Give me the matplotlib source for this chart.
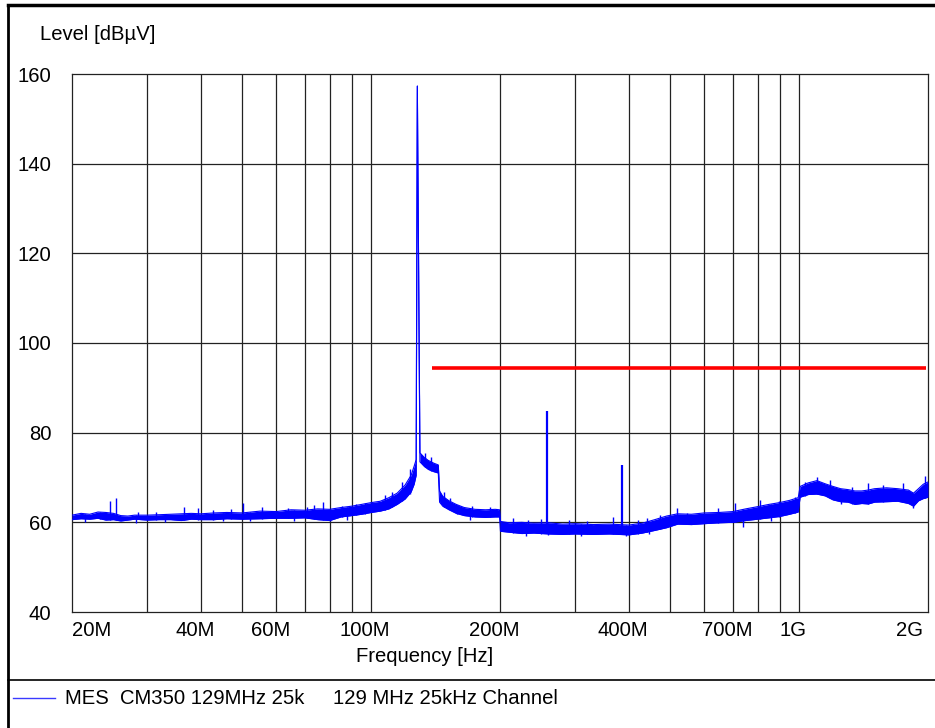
import numpy as np
import matplotlib
matplotlib.use('Agg')
import matplotlib.pyplot as plt
import matplotlib.transforms as mtrans
from matplotlib.lines import Line2D

plt.rcParams['font.family'] = ['Liberation Sans', 'DejaVu Sans']
FS = 14.6

# measured trace, envelope of the noise band (MHz, dBuV)
band_f = [20, 21, 22, 23, 24, 25, 26, 27, 28, 30, 32, 34, 36, 38, 40, 43, 46, 50,
          55, 60, 65, 70, 75, 80, 85, 90, 95, 100, 105, 110, 115, 120, 124, 126,
          127.4, 128.2, 130.0, 133, 136, 140, 143.5, 144.5, 147, 152, 158, 165,
          175, 185, 195, 199.5, 200.5, 210, 225, 240, 260, 280, 300, 330, 360,
          400, 430, 460, 490, 520, 560, 600, 650, 700, 750, 800, 850, 900, 950,
          995, 1005, 1050, 1100, 1150, 1200, 1250, 1300, 1350, 1400, 1450, 1500,
          1600, 1700, 1800, 1850, 1900, 1950, 2000]
band_lo = [60.6, 60.8, 60.7, 60.9, 60.5, 60.6, 60.3, 60.5, 60.7, 60.5, 60.6, 60.6,
           60.4, 60.7, 60.6, 60.6, 60.8, 60.7, 60.8, 60.9, 60.9, 61.0, 60.6, 60.4,
           61.2, 61.5, 61.8, 62.2, 62.5, 63.0, 64.0, 65.2, 66.8, 68.5, 70.5, 157.3,
           73.5, 72.5, 71.8, 71.3, 71.0, 64.5, 63.6, 62.8, 62.0, 61.5, 61.2, 61.1,
           61.2, 61.2, 58.0, 57.8, 57.5, 57.6, 57.4, 57.3, 57.4, 57.3, 57.4, 57.2,
           57.6, 58.2, 58.8, 59.6, 59.5, 59.7, 59.9, 60.0, 60.4, 60.7, 61.0, 61.3,
           61.8, 62.3, 65.6, 66.2, 66.3, 65.9, 65.0, 64.6, 64.5, 64.0, 64.2, 64.1,
           64.5, 64.6, 64.7, 64.2, 63.6, 64.8, 65.3, 65.6]
band_hi = [61.6, 62.0, 61.8, 62.3, 62.2, 62.0, 61.5, 61.4, 61.6, 61.6, 61.7, 61.8,
           61.9, 62.0, 61.9, 62.1, 62.2, 62.1, 62.5, 62.4, 62.8, 62.7, 63.0, 62.9,
           63.3, 63.6, 64.0, 64.4, 64.7, 65.5, 66.5, 68.3, 70.5, 72.5, 74.0, 157.3,
           75.5, 74.5, 73.8, 73.2, 72.8, 67.0, 65.8, 64.8, 64.0, 63.3, 62.9, 62.8,
           62.9, 62.8, 60.2, 59.9, 60.0, 59.8, 59.9, 59.6, 59.7, 59.5, 59.6, 59.4,
           59.8, 60.6, 61.4, 61.9, 61.8, 62.1, 62.2, 62.4, 63.0, 63.5, 64.0, 64.4,
           64.9, 65.5, 68.0, 68.8, 69.3, 68.6, 68.0, 67.5, 67.3, 67.0, 67.0, 67.2,
           67.5, 67.7, 67.5, 67.2, 66.5, 67.5, 68.5, 69.0]

# single bumps sticking out above the band
bump_f = [23.2, 24.5, 25.3, 28.5, 31.5, 36.6, 39.4, 42.7, 47.0, 50.2, 55.6, 64.0,
          70.9, 73.5, 77.3, 85.5, 92.0, 96.8, 106.7, 107.8, 112, 118, 123, 133.7,
          138, 148, 153, 159, 172, 190, 215, 232, 250, 290, 320, 368, 420, 442,
          473, 518, 547, 646, 708, 811, 895, 978, 1030, 1100, 1180, 1330, 1450,
          1570, 1750, 1970]
bump_top = [62.3, 64.7, 65.4, 62.3, 62.4, 63.4, 63.2, 62.7, 62.9, 64.4, 63.4, 63.3,
            63.4, 63.8, 64.5, 63.6, 64.2, 64.3, 65.0, 66.0, 66.8, 69.0, 72.0, 75.4,
            74.5, 66.8, 65.4, 63.8, 63.6, 63.5, 61.0, 60.6, 60.8, 60.5, 60.4, 61.3,
            60.5, 61.0, 61.6, 63.2, 62.0, 63.2, 64.3, 65.0, 64.8, 65.6, 69.0, 70.1,
            69.4, 67.9, 68.8, 68.3, 68.8, 70.3]

# single dips below the band
dip_f = [21.5, 28.2, 33, 45, 52, 66, 80, 88, 170, 230, 259, 310, 393, 445, 740,
         860, 1250, 1840]
dip_bot = [60.0, 59.8, 60.1, 60.2, 60.3, 60.4, 60.2, 60.6, 60.6, 57.0, 57.2, 56.9,
           56.9, 57.3, 59.0, 60.4, 64.0, 63.2]

# discrete carriers
spur_f = [257, 385]
spur_top = [84.8, 72.8]

# limit line
limit_f = [139, 1980]
limit_lvl = [94.5, 94.5]

xticks = [20, 40, 60, 100, 200, 400, 700, 1000, 2000]
xticklabels = ['20M', '40M', '60M', '100M', '200M', '400M', '700M', '1G', '2G']
xgrid = [30, 40, 50, 60, 70, 80, 90, 100, 200, 300, 400, 500, 600, 700, 800, 900, 1000]
yticks = [40, 60, 80, 100, 120, 140, 160]

W, H = 935, 728
fig = plt.figure(figsize=(W / 100, H / 100), dpi=100)
ax = fig.add_axes([72 / W, 1 - 612 / H, (928 - 72) / W, (612 - 74) / H])

ax.set_xscale('log')
ax.set_xlim(20, 2000)
ax.set_ylim(40, 160)

for g in xgrid:
    ax.axvline(g, color='#222222', lw=0.9, zorder=1)
for g in yticks[1:-1]:
    ax.axhline(g, color='#222222', lw=0.9, zorder=1)

blue = '#0000ff'
ax.fill_between(band_f, band_lo, band_hi, color=blue, lw=0, zorder=3)
ax.plot(band_f, band_hi, color=blue, lw=0.8, zorder=3)
ax.plot(band_f, band_lo, color=blue, lw=0.8, zorder=3)
bump_base = np.interp(bump_f, band_f, band_lo)
ax.vlines(bump_f, bump_base, bump_top, color=blue, lw=1.0, zorder=3)
dip_base = np.interp(dip_f, band_f, band_hi)
ax.vlines(dip_f, dip_bot, dip_base, color=blue, lw=1.0, zorder=3)
spur_base = np.interp(spur_f, band_f, band_lo)
ax.vlines(spur_f, spur_base, spur_top, color=blue, lw=1.6, zorder=3)

ax.plot(limit_f, limit_lvl, color='#ff0000', lw=2.6, solid_capstyle='butt', zorder=4)

for s in ax.spines.values():
    s.set_color('#222222')
    s.set_linewidth(0.9)

ax.set_yticks(yticks)
ax.tick_params(axis='y', length=0, pad=15, labelsize=FS)
ax.set_xticks([])
ax.xaxis.set_minor_locator(matplotlib.ticker.NullLocator())

# frequency labels under the axis
def px(dx):
    return mtrans.ScaledTranslation(dx / 100, 0, fig.dpi_scale_trans)

lab_tr = mtrans.blended_transform_factory(ax.transData, fig.transFigure)
for f, t in zip(xticks, xticklabels):
    if f == xticks[0]:
        ax.text(f, 1 - 630 / H, t, transform=lab_tr, ha='left', va='center', fontsize=FS)
    elif f == xticks[-1]:
        ax.text(f, 1 - 630 / H, t, transform=lab_tr + px(-5), ha='right', va='center', fontsize=FS)
    else:
        ax.text(f, 1 - 630 / H, t, transform=lab_tr + px(-6), ha='center', va='center', fontsize=FS)

fig.text(425 / W, 1 - 657 / H, 'Frequency [Hz]', ha='center', va='center', fontsize=FS)
fig.text(40 / W, 1 - 35 / H, 'Level [dBµV]', ha='left', va='center', fontsize=FS)

# page frame and legend strip
fig.add_artist(Line2D([7.5 / W, 7.5 / W], [0, 1 - 5 / H], color='black', lw=2.0))
fig.add_artist(Line2D([7.5 / W, 1], [1 - 5 / H, 1 - 5 / H], color='black', lw=2.5))
fig.add_artist(Line2D([7.5 / W, 1], [1 - 680 / H, 1 - 680 / H], color='black', lw=1.2))
fig.add_artist(Line2D([13 / W, 55 / W], [1 - 698 / H, 1 - 698 / H], color='#3a3aff', lw=1.0))
fig.text(65 / W, 1 - 698 / H, 'MES  CM350 129MHz 25k', ha='left', va='center', fontsize=FS)
fig.text(333 / W, 1 - 698 / H, '129 MHz 25kHz Channel', ha='left', va='center', fontsize=FS)

fig.savefig('out.png', dpi=100)
